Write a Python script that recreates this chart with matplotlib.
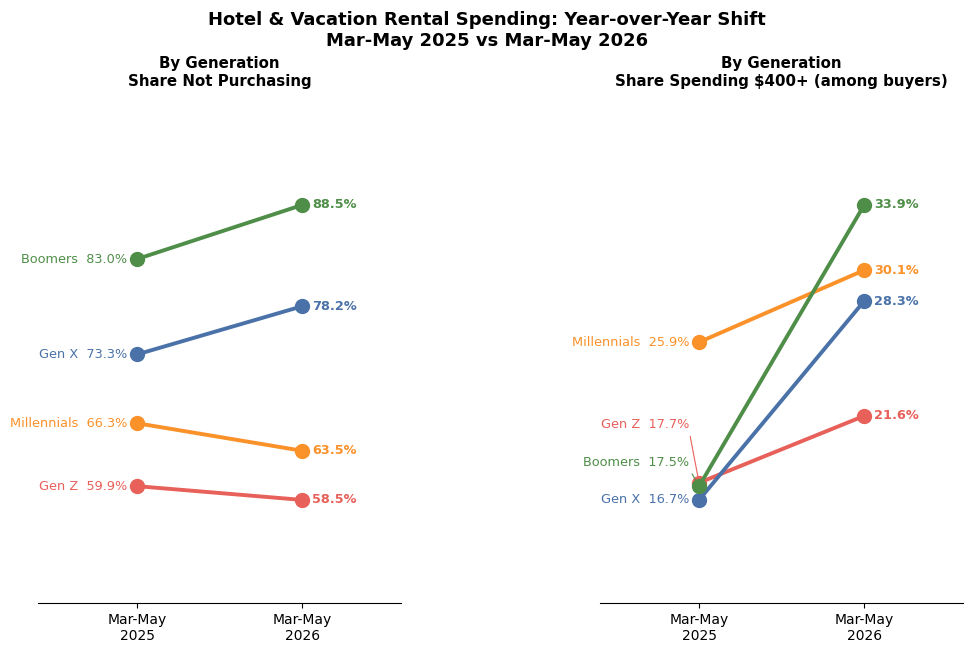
import matplotlib.pyplot as plt

periods = ['Mar-May\n2025', 'Mar-May\n2026']
generations = ['Gen Z', 'Millennials', 'Gen X', 'Boomers']
colors = ['#e8605a', '#fb9129', '#4a72a8', '#4f8e48']

not_purchasing_2025 = [59.9, 66.3, 73.3, 83.0]
not_purchasing_2026 = [58.5, 63.5, 78.2, 88.5]

spend400_2025 = [17.7, 25.9, 16.7, 17.5]
spend400_2026 = [21.6, 30.1, 28.3, 33.9]


def spread_labels(values, gap):
    # push start labels apart so they don't overlap
    order = sorted(range(len(values)), key=lambda i: values[i])
    pos = list(values)
    prev = None
    for i in order:
        if prev is not None and pos[i] < prev + gap:
            pos[i] = prev + gap
        prev = pos[i]
    return pos


def slope_panel(ax, start, end, title):
    lo = min(start + end)
    hi = max(start + end)
    rng = hi - lo
    label_y = spread_labels(start, rng * 0.128)

    for name, c, a, b, ly in zip(generations, colors, start, end, label_y):
        ax.plot([0, 1], [a, b], color=c, lw=2.8, marker='o', markersize=10, zorder=3)
        text = '{}  {:.1f}%'.format(name, a)
        if abs(ly - a) > 1e-9:
            ax.annotate(text, xy=(0, a), xytext=(-0.06, ly), ha='right', va='center',
                        color=c, fontsize=9.3,
                        arrowprops=dict(arrowstyle='-', color=c, lw=0.8, relpos=(1, 0),
                                        shrinkA=2, shrinkB=5))
        else:
            ax.text(-0.06, a, text, ha='right', va='center', color=c, fontsize=9.3)
        ax.text(1.06, b, '{:.1f}%'.format(b), ha='left', va='center', color=c,
                fontsize=9.3, fontweight='bold')

    ax.set_xlim(-0.6, 1.6)
    ax.set_ylim(lo - rng * 0.35, hi + rng * 0.35)
    ax.set_xticks([0, 1])
    ax.set_xticklabels(periods, fontsize=10)
    ax.set_yticks([])
    for side in ['left', 'top', 'right']:
        ax.spines[side].set_visible(False)
    ax.set_title(title, fontsize=10.8, fontweight='bold', pad=11.5)


fig = plt.figure(figsize=(9.74, 6.65), dpi=100)
ax1 = fig.add_axes([0.039, 0.093, 0.373, 0.754])
ax2 = fig.add_axes([0.616, 0.093, 0.373, 0.754])

slope_panel(ax1, not_purchasing_2025, not_purchasing_2026, 'By Generation\nShare Not Purchasing')
slope_panel(ax2, spend400_2025, spend400_2026, 'By Generation\nShare Spending $400+ (among buyers)')

fig.suptitle('Hotel & Vacation Rental Spending: Year-over-Year Shift\nMar-May 2025 vs Mar-May 2026',
             fontsize=13, fontweight='bold', y=0.983)

plt.savefig('out.png', dpi=100)
plt.close()
